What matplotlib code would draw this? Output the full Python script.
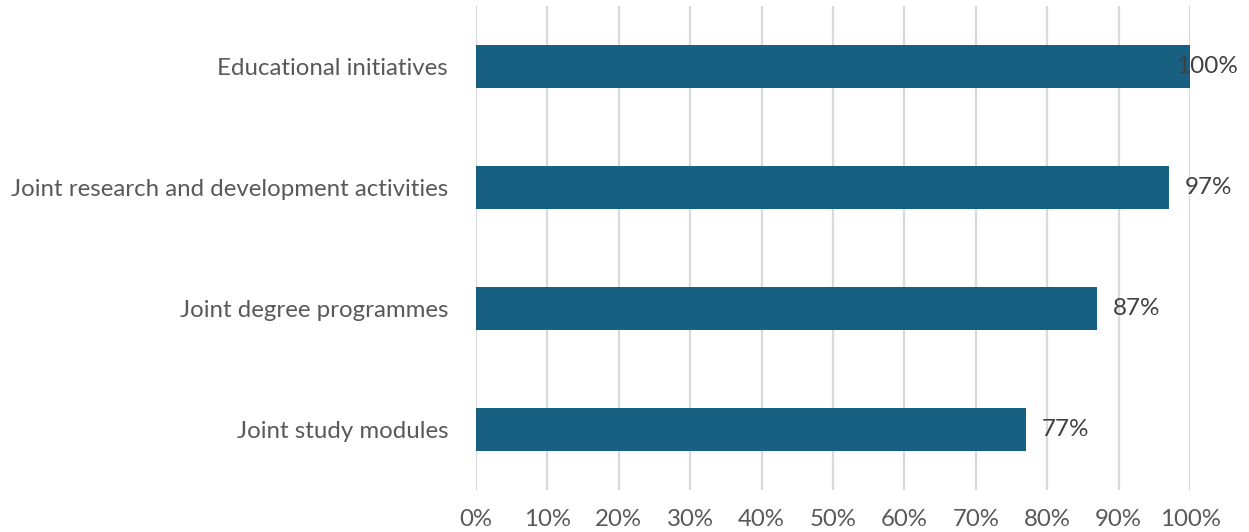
import matplotlib.pyplot as plt
from matplotlib.ticker import PercentFormatter

categories = ["Educational initiatives", "Joint research and development activities",
              "Joint degree programmes", "Joint study modules"]
values = [100, 97, 87, 77]
ticks = list(range(0, 101, 10))

plt.rcParams["font.family"] = ["Lato", "DejaVu Sans"]

W, H = 1249, 532
fig = plt.figure(figsize=(W / 100, H / 100), dpi=100)
ax = fig.add_axes([476 / W, (H - 490) / H, (1190 - 476) / W, (490 - 6) / H])

ypos = list(range(len(categories)))[::-1]
ax.barh(ypos, values, height=0.35, color="#176082", zorder=3)

# data labels
for y, v in zip(ypos, values):
    if v >= 99:
        ax.annotate(f"{v}%", (v, y), xytext=(48, 0), textcoords="offset pixels",
                    ha="right", va="center", fontsize=17.5, color="#404040", zorder=4)
    else:
        ax.annotate(f"{v}%", (v, y), xytext=(16, 0), textcoords="offset pixels",
                    ha="left", va="center", fontsize=17.5, color="#404040", zorder=4)

ax.set_xlim(0, 100)
ax.set_ylim(-0.5, len(categories) - 0.5)
ax.set_xticks(ticks)
ax.xaxis.set_major_formatter(PercentFormatter(decimals=0))
ax.set_yticks(ypos)
ax.set_yticklabels(categories)
ax.tick_params(axis="x", length=0, pad=14, labelsize=17.3, labelcolor="#595959")
ax.tick_params(axis="y", length=0, pad=20, labelsize=17.3, labelcolor="#595959")

ax.grid(axis="x", color="#D9D9D9", linewidth=1.6, zorder=0)
for s in ax.spines.values():
    s.set_visible(False)

fig.savefig("out.png", dpi=100)
